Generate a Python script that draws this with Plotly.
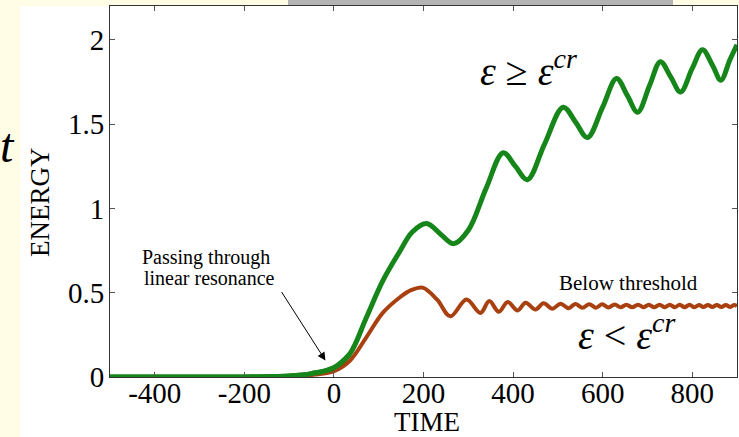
import plotly.graph_objects as go

# ---- data ----
time_green = [-500, -300, -200, -150, -100, -50, 0, 35, 72, 109, 146, 175, 207, 237, 267,
              300, 340, 378, 405, 432, 470, 512, 540, 566, 600, 631, 655, 678, 705, 729,
              752, 774, 800, 823, 845, 864, 884, 900]
energy_green = [0, 0, 0, 0.002, 0.006, 0.02, 0.055, 0.135, 0.35, 0.57, 0.74, 0.86, 0.91, 0.85, 0.79,
                0.87, 1.12, 1.33, 1.25, 1.17, 1.38, 1.60, 1.51, 1.42, 1.60, 1.77, 1.67, 1.57, 1.73, 1.87,
                1.78, 1.69, 1.83, 1.94, 1.85, 1.76, 1.88, 1.97]

time_brown = [-500, -200, -150, -100, -50, 0, 35, 72, 109, 146, 172, 198, 230, 260, 296, 327, 347,
              368, 388, 410, 428, 450, 468, 488, 506, 524, 539, 555, 570, 585, 599, 613, 627, 640,
              653, 666, 679, 691, 703, 715, 727, 739, 750, 761, 772, 783, 794, 805, 815, 825, 835,
              845, 855, 865, 875, 885, 894, 900]
energy_brown = [0, 0, 0.001, 0.003, 0.012, 0.035, 0.095, 0.234, 0.38, 0.47, 0.515, 0.53, 0.46, 0.36,
                0.46, 0.38, 0.45, 0.387, 0.445, 0.395, 0.44, 0.40, 0.437, 0.405, 0.435, 0.408, 0.433,
                0.41, 0.432, 0.411, 0.431, 0.412, 0.43, 0.413, 0.429, 0.413, 0.429, 0.414, 0.428,
                0.414, 0.428, 0.414, 0.428, 0.414, 0.428, 0.414, 0.428, 0.414, 0.427, 0.415, 0.427,
                0.415, 0.427, 0.415, 0.427, 0.415, 0.427, 0.421]

x_ticks = [-400, -200, 0, 200, 400, 600, 800]
x_tick_labels = ["-400", "-200", "0", "200", "400", "600", "800"]
y_ticks = [0, 0.5, 1, 1.5, 2]
y_tick_labels = ["0", "0.5", "1", "1.5", "2"]

# ---- layout geometry ----
W, H = 739, 437
ML, MR, MT, MB = 110, 2, 6, 60
PW, PH = W - ML - MR, H - MT - MB


def px_x(p):
    return (p - ML) / PW


def px_y(p):
    return (H - MB - p) / PH


SERIF = "Liberation Serif, Times New Roman, serif"
GREEN = "#17861a"
BROWN = "#a8400f"

fig = go.Figure()
fig.add_trace(go.Scatter(x=time_green, y=energy_green, mode="lines",
                         line=dict(color=GREEN, width=5, shape="spline", smoothing=1.0),
                         showlegend=False, hoverinfo="skip"))
fig.add_trace(go.Scatter(x=time_brown, y=energy_brown, mode="lines",
                         line=dict(color=BROWN, width=4, shape="spline", smoothing=1.0),
                         showlegend=False, hoverinfo="skip"))
# green drawn on top near the origin
fig.add_trace(go.Scatter(x=time_green[:8], y=energy_green[:8], mode="lines",
                         line=dict(color=GREEN, width=5, shape="spline", smoothing=1.0),
                         showlegend=False, hoverinfo="skip"))

axis_common = dict(showgrid=False, zeroline=False, showline=True, linecolor="#333333",
                   linewidth=1, mirror="ticks", ticks="inside", ticklen=5, tickcolor="#555555",
                   tickfont=dict(family=SERIF, size=29, color="black"))

fig.update_xaxes(range=[-500, 900], tickvals=x_ticks, ticktext=x_tick_labels,
                 ticklabelstandoff=-10, **axis_common)
fig.update_yaxes(range=[0, 2.2], tickvals=y_ticks, ticktext=y_tick_labels,
                 ticklabelstandoff=-1, **axis_common)

shapes = [
    dict(type="rect", xref="paper", yref="paper", x0=px_x(20), x1=px_x(W + 5),
         y0=px_y(6), y1=px_y(H + 5), fillcolor="white", line=dict(width=0), layer="below"),
    dict(type="rect", xref="paper", yref="paper", x0=px_x(288), x1=px_x(673),
         y0=px_y(-5), y1=px_y(6), fillcolor="#b3b3b3", line=dict(width=0), layer="below"),
]

annotations = [
    dict(text="ENERGY", xref="paper", yref="paper", x=px_x(40), y=px_y(202), textangle=-90,
         showarrow=False, font=dict(family=SERIF, size=27, color="black"),
         xanchor="center", yanchor="middle"),
    dict(text="TIME", xref="paper", yref="paper", x=px_x(427), y=px_y(422),
         showarrow=False, font=dict(family=SERIF, size=27, color="black"),
         xanchor="center", yanchor="middle"),
    dict(text="<i>ε</i> ≥ <i>ε<sup>cr</sup></i>", xref="paper", yref="paper", x=px_x(528), y=px_y(68),
         showarrow=False, font=dict(family=SERIF, size=40, color="black"),
         xanchor="center", yanchor="middle"),
    dict(text="<i>ε</i> < <i>ε<sup>cr</sup></i>", xref="paper", yref="paper", x=px_x(627), y=px_y(332),
         showarrow=False, font=dict(family=SERIF, size=40, color="black"),
         xanchor="center", yanchor="middle"),
    dict(text="Below threshold", xref="paper", yref="paper", x=px_x(628), y=px_y(283),
         showarrow=False, font=dict(family=SERIF, size=21, color="black"),
         xanchor="center", yanchor="middle"),
    dict(text="Passing through", xref="paper", yref="paper", x=px_x(206), y=px_y(257),
         showarrow=False, font=dict(family=SERIF, size=20, color="black"),
         xanchor="center", yanchor="middle"),
    dict(text="linear resonance", xref="paper", yref="paper", x=px_x(209), y=px_y(278),
         showarrow=False, font=dict(family=SERIF, size=20, color="black"),
         xanchor="center", yanchor="middle"),
    dict(text="", x=-19, y=0.098, xref="x", yref="y", ax=-119, ay=0.513, axref="x", ayref="y",
         showarrow=True, arrowhead=2, arrowsize=1.6, arrowwidth=1, arrowcolor="black"),
    dict(text="<i>t</i>", xref="paper", yref="paper", x=px_x(-2), y=px_y(145),
         showarrow=False, font=dict(family=SERIF, size=48, color="black"),
         xanchor="left", yanchor="middle"),
]

fig.update_layout(width=W, height=H, margin=dict(l=ML, r=MR, t=MT, b=MB, autoexpand=False),
                  paper_bgcolor="#fffde6", plot_bgcolor="white",
                  shapes=shapes, annotations=annotations)

fig.write_html("out.html", config={"displayModeBar": False, "staticPlot": True},
               post_script="document.body.style.margin='0';document.body.style.overflow='hidden';")
